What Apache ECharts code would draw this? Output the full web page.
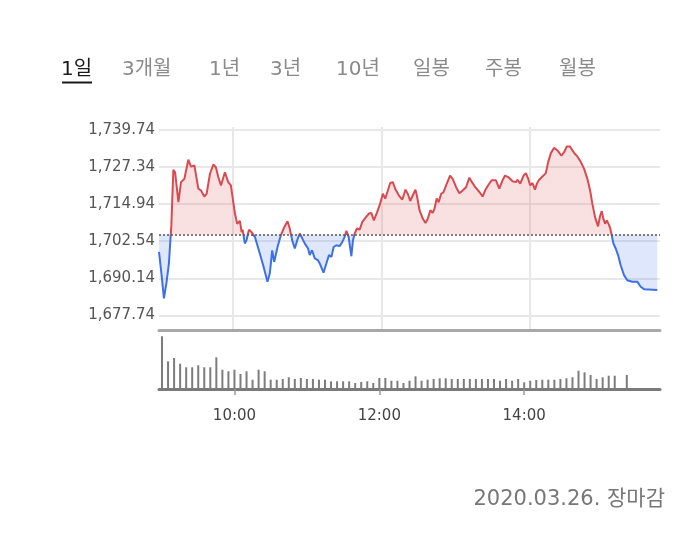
<!DOCTYPE html>
<html><head><meta charset="utf-8">
<script src="https://cdn.jsdelivr.net/npm/echarts@6/dist/echarts.min.js"></script>
<style>html,body{margin:0;padding:0;background:#fff}#c{width:694px;height:550px}</style>
</head><body><div id="c"></div>
<script>
// ---- data ----
const tabLabels = ['1일','3개월','1년','3년','10년','일봉','주봉','월봉'];
const activeTab = 0;
const prevClose = 1704.76;
const yTickValues = [1677.74, 1690.14, 1702.54, 1714.94, 1727.34, 1739.74];
const xTickLabels = ['10:00', '12:00', '14:00'];
const dateText = '2020.03.26. 장마감';

// minutes after 09:00
const priceTimes = [0,2,4,6,8,10,11.6,13,15.7,17.8,20.5,23.7,25.9,28.6,31.8,34,36.6,38.5,41.2,43.9,46,47.9,50.1,53.3,56,58.1,61.4,63.2,65.4,66.8,67.6,69.4,70.8,72.7,74.8,77.5,81.5,84.2,87.7,89.6,91.5,93.1,95.8,98.5,101.1,103.9,105.7,107.6,109.8,111.9,113.8,115.2,117.8,120.5,121.9,123.7,125.9,128.5,129.9,133,135.3,137.4,139.4,141.2,143.4,146,148.2,150.1,151.5,153.3,155.5,156.8,158.2,160,162.2,164.4,167,169.7,171.6,173.7,176.1,178.3,181,182.9,185,186.9,189,191.2,193.9,196.6,199.3,201.1,203.1,205.2,207.3,208.7,210.6,213.2,215.4,217.3,219.4,221.3,222.7,224.5,226.1,228.1,229.9,232.1,235.3,237.4,240.2,242.8,245.5,248.2,250.9,253,255.7,259,261.6,264,266.5,268.9,272.4,275.1,277.7,279.7,282.3,285.8,288.5,289.8,292,294.7,296.6,298.5,300.1,301.9,303.9,305.5,307.3,310,312.7,314.6,316.8,319.4,322.1,325.3,327.5,329.7,332.3,334.2,336.1,338.2,341,343.6,346.3,348.5,350.3,352.5,354.9,356.5,357.9,359.2,360.6,362,363.3,364.6,366,367.3,369.2,371.1,373.2,375.9,378.5,382.6,386.6,389.4,392.1,402.8];
const priceValues = [1699.0,1691.5,1683.4,1688.5,1695.0,1708.0,1726.4,1725.6,1715.6,1722.3,1723.4,1729.8,1727.5,1727.9,1720.1,1719.5,1717.5,1718.4,1725.1,1728.2,1727.3,1724.0,1721.2,1725.6,1722.3,1721.2,1711.8,1708.4,1709.3,1705.6,1706.4,1701.8,1702.9,1706.4,1705.6,1704.0,1698.4,1694.5,1689.0,1691.8,1699.5,1695.6,1700.6,1704.5,1707.1,1709.2,1706.8,1702.9,1700.1,1703.1,1705.1,1704.5,1701.8,1700.1,1697.9,1699.5,1696.8,1696.2,1695.1,1692.0,1695.1,1697.9,1697.3,1700.6,1701.2,1700.9,1702.3,1704.0,1706.0,1704.0,1697.5,1702.9,1705.1,1706.8,1706.4,1709.0,1710.4,1711.8,1712.0,1709.5,1712.0,1714.5,1718.4,1716.8,1719.5,1722.0,1722.3,1719.8,1717.9,1716.4,1719.8,1718.4,1716.0,1717.9,1719.8,1717.3,1712.9,1710.1,1708.6,1710.1,1712.9,1712.0,1713.4,1716.8,1715.6,1718.4,1718.9,1721.2,1724.5,1723.4,1720.6,1718.6,1719.5,1720.6,1723.8,1722.3,1720.6,1719.0,1717.5,1719.8,1721.5,1722.9,1722.9,1720.1,1722.9,1724.5,1724.0,1722.6,1722.3,1723.1,1721.8,1724.5,1725.3,1723.4,1721.2,1722.0,1719.8,1721.8,1723.1,1724.2,1725.3,1729.0,1732.0,1733.8,1732.9,1731.2,1732.3,1734.2,1734.2,1732.9,1731.8,1730.9,1729.0,1726.8,1723.4,1719.5,1715.1,1710.6,1707.5,1710.9,1712.6,1710.1,1708.4,1709.5,1708.4,1707.1,1704.5,1701.8,1700.1,1697.9,1694.5,1691.2,1689.5,1689.0,1689.0,1687.3,1686.5,1686.24];

// 5-minute volume bars starting 09:00 (null = no trade)
const volumeValues = [5270,2770,3100,2530,2170,2170,2370,2170,2170,3170,1930,1770,1930,1500,1770,930,1930,1770,930,930,1000,1170,1000,1100,1000,1000,930,930,770,770,770,770,600,700,770,600,1100,1100,830,830,600,830,1270,830,930,1000,1070,1070,1000,1000,1000,1000,1000,1000,1000,1000,830,1000,830,1000,670,830,900,930,930,930,1000,1070,1170,1830,1670,1400,1000,1170,1330,1330,null,1400];

// time slots of the volume axis, 09:00 .. 15:50 every 5 min
const volumeSlots = [];
for (let m = 0; m <= 410; m += 5) {
  const h = 9 + Math.floor(m / 60), mm = m % 60;
  volumeSlots.push((h < 10 ? '0' : '') + h + ':' + (mm < 10 ? '0' : '') + mm);
}
const xTickMinutes = xTickLabels.map(s => { const p = s.split(':'); return (+p[0] - 9) * 60 + (+p[1]); });

// ---- chart ----
const chart = echarts.init(document.getElementById('c'), null, {renderer: 'canvas'});
const labelFont = 'DejaVu Sans';
const uiFont = '"DejaVu Sans", "Noto Sans CJK KR"';
const tabX = [61, 122, 209, 270, 336, 413, 485, 559];

const graphics = tabLabels.map((t, i) => ({
  type: 'text', left: tabX[i], top: 60,
  style: { text: t, font: '20px ' + uiFont, fill: i === activeTab ? '#1a1a1a' : '#8a8a8a' }
}));
graphics.push({ type: 'rect', left: tabX[activeTab] + 1, top: 81.5, shape: { width: 30, height: 2 }, style: { fill: '#1a1a1a' } });
graphics.push({ type: 'text', right: 29, top: 489, style: { text: dateText, font: '21px ' + uiFont, fill: '#777', textAlign: 'right' } });

chart.setOption({
  animation: false,
  backgroundColor: '#fff',
  graphic: graphics,
  grid: [
    { left: 159, top: 127, width: 501, height: 203 },
    { left: 159, top: 331, width: 501, height: 58 }
  ],
  xAxis: [
    { type: 'value', gridIndex: 0, min: 0, max: 405,
      axisLine: { show: true, onZero: false, lineStyle: { color: '#a8a8a8', width: 3 } },
      axisTick: { show: false, customValues: xTickMinutes },
      axisLabel: { show: false, customValues: xTickMinutes },
      splitLine: { show: true, lineStyle: { color: '#e8e8e8', width: 2 } } },
    { type: 'category', gridIndex: 1, data: volumeSlots, boundaryGap: true,
      axisLine: { show: true, lineStyle: { color: '#7a7a7a', width: 3 } },
      axisTick: { show: true, alignWithLabel: true, length: 6, interval: (i, v) => xTickLabels.indexOf(v) >= 0, lineStyle: { color: '#999', width: 1.5 } },
      axisLabel: { show: true, interval: (i, v) => xTickLabels.indexOf(v) >= 0, color: '#444', fontSize: 15, fontFamily: labelFont, margin: 20 },
      splitLine: { show: false } }
  ],
  yAxis: [
    { type: 'value', gridIndex: 0, min: 1672.84, max: 1740.74,
      axisLine: { show: false }, axisTick: { show: false, customValues: yTickValues },
      axisLabel: { show: true, customValues: yTickValues, formatter: v => v.toLocaleString('en-US', {minimumFractionDigits: 2, maximumFractionDigits: 2}), color: '#555', fontSize: 15, fontFamily: labelFont, margin: 4, padding: [4, 0, 0, 0] },
      splitLine: { show: true, lineStyle: { color: '#e8e8e8', width: 2 } } },
    { type: 'value', gridIndex: 1, min: 0, max: 5800, show: false, splitLine: { show: false } }
  ],
  visualMap: {
    type: 'piecewise', show: false, seriesIndex: 0, dimension: 1,
    pieces: [ { gt: 1600, lte: prevClose, color: '#3d70e6' }, { gt: prevClose, lte: 1800, color: '#d94a50' } ]
  },
  series: [
    { type: 'line', xAxisIndex: 0, yAxisIndex: 0,
      data: priceTimes.map((t, i) => [t, priceValues[i]]),
      showSymbol: false, lineStyle: { width: 2 },
      areaStyle: { origin: prevClose, opacity: 0.17 },
      markLine: { silent: true, symbol: 'none', label: { show: false },
        lineStyle: { color: '#555', type: [2, 2], width: 1.5 },
        data: [ { yAxis: prevClose } ] } },
    { type: 'bar', xAxisIndex: 1, yAxisIndex: 1, data: volumeValues, barWidth: 2,
      itemStyle: { color: '#7c7c7c' } }
  ]
});
</script>
</body></html>
